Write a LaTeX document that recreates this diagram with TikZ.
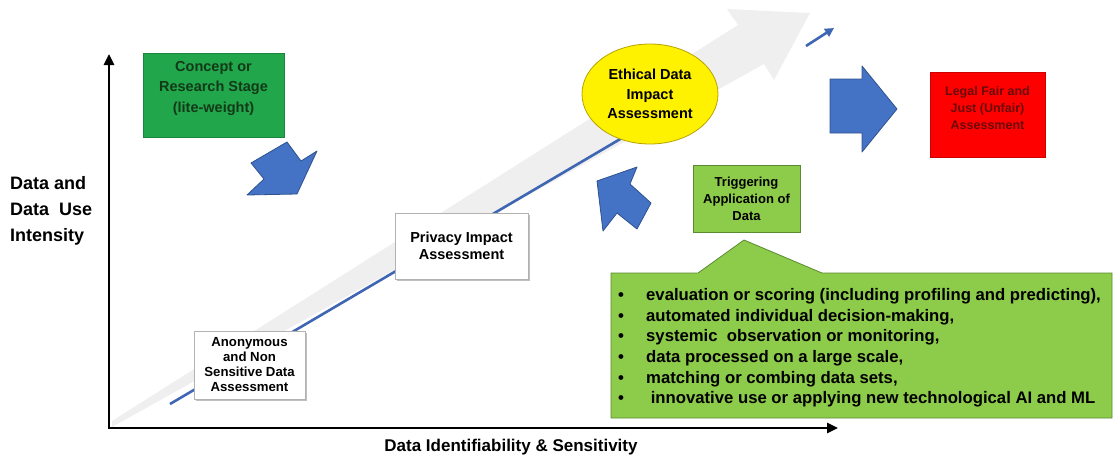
\documentclass[tikz,border=0pt]{standalone}
\usepackage{fontspec}
\setmainfont{Liberation Sans}
\usetikzlibrary{shapes.geometric,arrows.meta,shadows}
\definecolor{cgreen}{HTML}{22A64B}
\definecolor{ctext}{HTML}{123A18}
\definecolor{tgreen}{HTML}{8DCB4A}
\definecolor{tedge}{HTML}{5A8A33}
\definecolor{rbox}{HTML}{FF0000}
\definecolor{rtext}{HTML}{6A0A0A}
\definecolor{ablue}{HTML}{4472C4}
\definecolor{aedge}{HTML}{2F528F}
\definecolor{lblue}{HTML}{3F66B3}
\definecolor{ggray}{HTML}{EFEFEF}
\definecolor{yedge}{HTML}{B8A200}
\begin{document}
\begin{tikzpicture}[x=1pt,y=-1pt,
  boxw/.style={draw=gray!60, fill=white, line width=0.7pt, inner sep=0, align=center,
    drop shadow={shadow xshift=2pt,shadow yshift=-2pt,opacity=0.25,fill=black}},
  barrow/.style={fill=ablue, draw=aedge, line width=0.8pt, line join=round},
  txt/.style={inner sep=0, align=center},
  axis/.style={line width=2.6pt, black, {Triangle[length=11pt,width=10pt]}-{Triangle[length=11pt,width=10pt]}},
]
\useasboundingbox (0,0) rectangle (1117,458);

% big light gray arrow
\fill[ggray] (112,427) -- (764,64) -- (774,80) -- (810,13) -- (727,9) -- (738,25) -- (112,421) -- cycle;

% blue trend line
\coordinate (bl0) at (170,404);
\coordinate (bl1) at (622,138);
\draw[lblue, line width=2.6pt] (bl0) -- (bl1);
\coordinate (sa0) at (806,46);
\coordinate (sa1) at (834,28);
\draw[lblue, line width=2.6pt, -{Triangle[length=9pt,width=9pt]}] (sa0) -- (sa1);

% boxes on the line
\node[boxw, minimum width=111, minimum height=68, font=\bfseries\fontsize{13.2}{15}\selectfont] (anon) at (249.5,365) {Anonymous\\and Non\\Sensitive Data\\Assessment};
\node[boxw, minimum width=133, minimum height=66, font=\bfseries\fontsize{14.5}{17}\selectfont] (pia) at (461.5,246) {Privacy Impact\\Assessment};

% concept box
\node[fill=cgreen, draw=cgreen!80!black, line width=0.7pt, minimum width=141, minimum height=84, inner sep=0] (concept) at (213.5,95) {};
\node[txt, text=ctext, font=\bfseries\fontsize{14.5}{20.5}\selectfont] (conceptT) at (213.5,88) {Concept or\\Research Stage\\(lite-weight)};

% ethical ellipse
\node[ellipse, fill=yellow, draw=yedge, line width=0.8pt, minimum width=136, minimum height=100, inner sep=0, align=center, font=\bfseries\fontsize{14.5}{19.5}\selectfont] (eth) at (650,94) {Ethical Data\\Impact\\Assessment};

% triggering box
\node[fill=tgreen, draw=tedge, line width=0.8pt, minimum width=107, minimum height=67, inner sep=0, align=center, font=\bfseries\fontsize{13}{17}\selectfont] (trig) at (746.5,198.5) {Triggering\\Application of\\Data};

% red box
\node[fill=rbox, draw=rbox!80!black, line width=0.7pt, minimum width=115, minimum height=85, inner sep=0] (legal) at (987.5,114.5) {};
\node[txt, text=rtext, font=\bfseries\fontsize{12.5}{17}\selectfont] (legalT) at (987.5,108) {Legal Fair and\\Just (Unfair)\\Assessment};

% blue block arrows
\filldraw[barrow] (287,142) -- (251,163) -- (264,179) -- (247,195) -- (297,194) -- (317,151) -- (301,161) -- cycle;
\filldraw[barrow] (597,181) -- (637,167) -- (630,184) -- (651,203) -- (637,229) -- (617,213) -- (603,231) -- cycle;
\filldraw[barrow] (830,79) -- (862,79) -- (862,66) -- (897,109) -- (862,152) -- (862,133) -- (830,133) -- cycle;

% callout
\coordinate (c1) at (611,273);
\coordinate (c2) at (698,273);
\coordinate (cp) at (744,240);
\coordinate (c3) at (822,273);
\coordinate (c4) at (1112,273);
\coordinate (c5) at (1112,418);
\coordinate (c6) at (611,418);
\filldraw[fill=tgreen, draw=tedge, line width=0.8pt, line join=miter] (c1) -- (c2) -- (cp) -- (c3) -- (c4) -- (c5) -- (c6) -- cycle;
\node[inner sep=0, anchor=west, font=\bfseries\fontsize{16.7}{20.6}\selectfont] (list) at (618,348) {%
\begin{tabular}{@{}p{22pt}@{\hspace{6pt}}l@{}}
\textbullet & evaluation or scoring (including profiling and predicting),\\
\textbullet & automated individual decision-making,\\
\textbullet & systemic\ \ observation or monitoring,\\
\textbullet & data processed on a large scale,\\
\textbullet & matching or combing data sets,\\
\textbullet & \ innovative use or applying new technological AI and ML
\end{tabular}};

% axes
\coordinate (ytip) at (109,54);
\coordinate (orig) at (109,428);
\coordinate (xtip) at (838,428);
\draw[axis, line join=miter] (ytip) -- (orig) -- (xtip);

% axis labels
\node[inner sep=0, anchor=west, align=left, font=\bfseries\fontsize{18}{26}\selectfont] (ylab) at (10,211) {Data and\\Data\ \ Use\\Intensity};
\node[inner sep=0, font=\bfseries\fontsize{17}{20}\selectfont] (xlab) at (511,447) {Data Identifiability \& Sensitivity};
\end{tikzpicture}
\end{document}
